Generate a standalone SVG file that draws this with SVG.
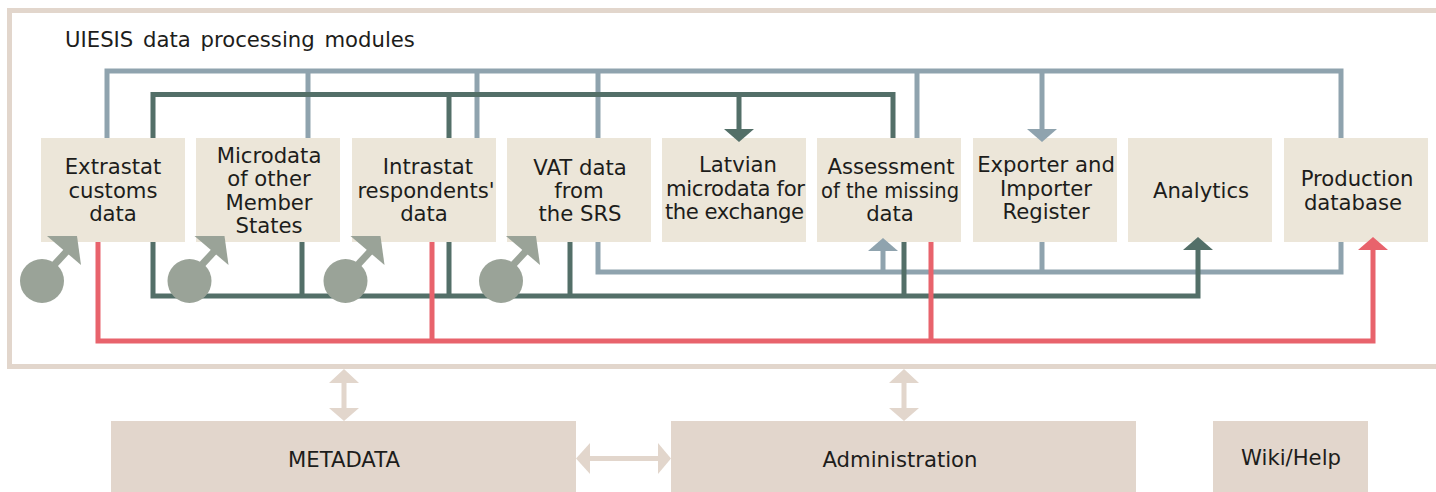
<svg xmlns="http://www.w3.org/2000/svg" width="1436" height="492" viewBox="0 0 1436 492">
<style>
text{font-family:"DejaVu Sans","Liberation Sans",sans-serif;font-size:21.2px;fill:#1d1d1b;text-anchor:middle}
.box{fill:#ece6d9}.low{fill:#e2d6cc}
.c{fill:none;stroke-width:5;stroke-linejoin:miter}
.b{stroke:#8fa3ae}.g{stroke:#536f68}.r{stroke:#e8636c}.t{stroke:#e2d6cc}
.bf{fill:#8fa3ae}.gf{fill:#536f68}.rf{fill:#e8636c}.tf{fill:#e2d6cc}
.s{fill:#9aa398}
</style>
<defs>
<g id="source"><path d="M0 -3L26 -31" stroke="#9aa398" stroke-width="7" fill="none"/><circle cx="0" cy="0" r="22" class="s"/><polygon points="5,-45 35,-45 39,-16" class="s"/></g>
</defs>
<g id="frame"><rect x="9.500" y="10.500" width="1440" height="356" fill="none" stroke="#e2d6cc" stroke-width="5"/><text x="65" y="47" id="frame-title" style="text-anchor:start;word-spacing:3px">UIESIS data processing modules</text></g>
<g id="extrastat"><rect class="box" x="41" y="138" width="144" height="104"/><text x="113" y="174">Extrastat</text><text x="113" y="198">customs</text><text x="113" y="221">data</text></g>
<g id="microdata"><rect class="box" x="196" y="138" width="144" height="104"/><text x="269" y="163">Microdata</text><text x="269" y="186">of other</text><text x="269" y="210">Member</text><text x="269" y="233">States</text></g>
<g id="intrastat"><rect class="box" x="352" y="138" width="144" height="104"/><text x="428" y="174">Intrastat</text><text x="426" y="198">respondents'</text><text x="424" y="221">data</text></g>
<g id="vat"><rect class="box" x="507" y="138" width="144" height="104"/><text x="580" y="175">VAT data</text><text x="579" y="198">from</text><text x="580" y="221">the SRS</text></g>
<g id="latvian"><rect class="box" x="662" y="138" width="144" height="104"/><text x="738" y="172">Latvian</text><text x="735.500" y="196" textLength="139" lengthAdjust="spacing">microdata for</text><text x="734.500" y="219" textLength="139" lengthAdjust="spacing">the exchange</text></g>
<g id="assessment"><rect class="box" x="817" y="138" width="144" height="104"/><text x="891" y="174">Assessment</text><text x="890" y="198" textLength="138" lengthAdjust="spacingAndGlyphs">of the missing</text><text x="890" y="221">data</text></g>
<g id="exporter"><rect class="box" x="973" y="138" width="144" height="104"/><text x="1046" y="172">Exporter and</text><text x="1046" y="196">Importer</text><text x="1046" y="219">Register</text></g>
<g id="analytics"><rect class="box" x="1128" y="138" width="144" height="104"/><text x="1201" y="198">Analytics</text></g>
<g id="production"><rect class="box" x="1284" y="138" width="144" height="104"/><text x="1357" y="186">Production</text><text x="1353" y="210">database</text></g>
<g id="metadata"><rect class="low" x="111" y="421" width="465" height="71"/><text x="344" y="467">METADATA</text></g>
<g id="administration"><rect class="low" x="671" y="421" width="465" height="71"/><text x="900" y="467">Administration</text></g>
<g id="wiki"><rect class="low" x="1213" y="421" width="155" height="71"/><text x="1291" y="465">Wiki/Help</text></g>
<g id="connectors">
<path class="c b" d="M107 138V71H1341V138M308 71V138M477 71V138M598 71V138M917 71V138M1042 71V130"/>
<path class="c b" d="M1341 242V272H598V242M1042 242V272M883 272V250"/>
<polygon class="bf" points="1027,129 1057,129 1042,142"/>
<polygon class="bf" points="868,251 898,251 883,238"/>
<path class="c g" d="M153 138V94.500H893V138M449 94.500V138M739 94.500V130"/>
<polygon class="gf" points="724,129 754,129 739,142"/>
<path class="c g" d="M153 242V296H1198V248M302 242V296M449 242V296M570 242V296M904 242V296"/>
<polygon class="gf" points="1183,250 1213,250 1198,237"/>
<path class="c r" d="M98 242V341H1373V248M432 242V341M931 242V341"/>
<polygon class="rf" points="1358,250 1388,250 1373,237"/>
<path class="c t" d="M344 380V410M904 380V410M588 458.500H660"/>
<polygon class="tf" points="329,383 359,383 344,369"/>
<polygon class="tf" points="329,408 359,408 344,421"/>
<polygon class="tf" points="889,383 919,383 904,369"/>
<polygon class="tf" points="889,408 919,408 904,421"/>
<polygon class="tf" points="590,443 590,474 576,458.500"/>
<polygon class="tf" points="658,443 658,474 671,458.500"/>
</g>
<g id="source-markers">
<use href="#source" x="42" y="281"/><use href="#source" x="189.500" y="281"/><use href="#source" x="345.500" y="281"/><use href="#source" x="501" y="281"/>
</g>
</svg>
